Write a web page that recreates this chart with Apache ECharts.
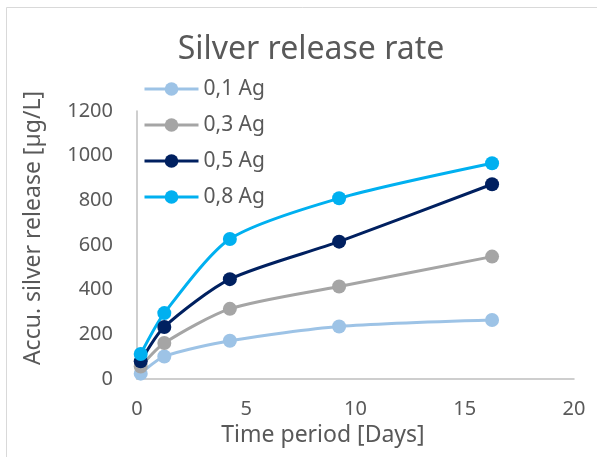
<!DOCTYPE html>
<html>
<head>
<meta charset="utf-8">
<script src="https://cdn.jsdelivr.net/npm/echarts@6/dist/echarts.min.js"></script>
<style>html,body{margin:0;padding:0;background:#fff}#c{width:597px;height:457px}</style>
</head>
<body>
<div id="c"></div>
<script>
const days = [0.17, 1.25, 4.25, 9.25, 16.25];
const seriesNames = ['0,1 Ag', '0,3 Ag', '0,5 Ag', '0,8 Ag'];
const ag01 = [24, 101, 171, 235, 264];
const ag03 = [56, 161, 314, 414, 548];
const ag05 = [79, 233, 447, 615, 872];
const ag08 = [112, 295, 627, 809, 966];
const colors = ['#9DC3E6', '#A5A5A5', '#002060', '#00B0F0'];
const allValues = [ag01, ag03, ag05, ag08];

const font = 'Noto Sans';
const txt = '#595959';

const chart = echarts.init(document.getElementById('c'), null, {renderer: 'canvas'});
chart.setOption({
  animation: false,
  backgroundColor: '#fff',
  title: {
    text: 'Silver release rate',
    left: 306, top: 29, textAlign: 'center',
    textStyle: {fontFamily: font, fontSize: 32, fontWeight: 'normal', color: txt}
  },
  legend: {
    orient: 'vertical',
    left: 138, top: 73,
    itemWidth: 54, itemHeight: 17, itemGap: 14,
    lineStyle: {width: 3},
    textStyle: {fontFamily: font, fontSize: 21, color: txt, lineHeight: 22},
    data: seriesNames
  },
  graphic: [{
    type: 'rect', silent: true, z: -10,
    shape: {x: 6.5, y: 7.5, width: 700, height: 600},
    style: {fill: 'none', stroke: '#D9D9D9', lineWidth: 1}
  }],
  grid: {left: 137, right: 23, top: 111, bottom: 78},
  xAxis: {
    type: 'value', min: 0, max: 20, interval: 5,
    name: 'Time period [Days]', nameLocation: 'middle', nameGap: 37,
    nameTextStyle: {fontFamily: font, fontSize: 23, color: txt, padding: [0, 65, 0, 0]},
    axisLine: {show: true, lineStyle: {color: '#BFBFBF', width: 1.5}},
    axisTick: {show: false},
    splitLine: {show: false},
    axisLabel: {fontFamily: font, fontSize: 20, color: txt, margin: 20}
  },
  yAxis: {
    type: 'value', min: 0, max: 1200, interval: 200,
    name: 'Accu. silver release [µg/L]', nameLocation: 'middle', nameGap: 92,
    nameTextStyle: {fontFamily: font, fontSize: 23, color: txt, padding: [0, 0, 0, 34]},
    axisLine: {show: true, lineStyle: {color: '#BFBFBF', width: 1.5}},
    axisTick: {show: false},
    splitLine: {show: false},
    axisLabel: {fontFamily: font, fontSize: 20, color: txt, margin: 24, formatter: v => String(v)}
  },
  series: seriesNames.map((n, i) => ({
    name: n,
    type: 'line',
    smooth: 0.25,
    symbol: 'circle',
    symbolSize: 14,
    color: colors[i],
    lineStyle: {width: 3, color: colors[i]},
    itemStyle: {color: colors[i]},
    data: days.map((d, j) => [d, allValues[i][j]])
  }))
});
</script>
</body>
</html>
